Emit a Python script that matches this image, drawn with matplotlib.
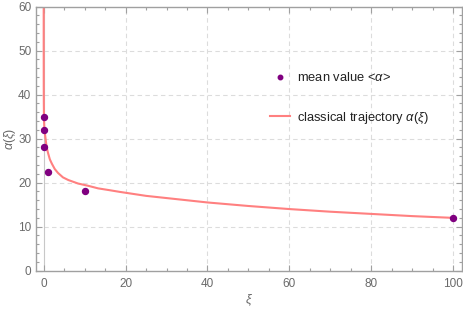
#!/usr/bin/env python3
"""Mean value of alpha vs. the classical trajectory alpha(xi)."""

import matplotlib

matplotlib.use("Agg")
import matplotlib.pyplot as plt
from matplotlib.ticker import MultipleLocator

# measured mean values
xi_points = [0.01, 0.03, 0.1, 1.0, 10.0, 100.0]
alpha_points = [35.0, 32.0, 28.0, 22.5, 18.0, 12.0]

# classical trajectory
xi_curve = [0.0001, 0.001, 0.01, 0.03, 0.07, 0.15, 0.25, 0.4, 0.6, 0.8, 1.1, 1.5,
            2.0, 2.7, 3.5, 4.7, 6.0, 8.4, 10.8, 13.3, 16.0, 18.6, 25.0, 30.0,
            40.0, 50.0, 60.0, 70.0, 80.0, 90.0, 100.0]
alpha_curve = [60.0, 52.0, 42.0, 38.0, 34.5, 32.6, 31.6, 30.4, 28.9, 27.7, 26.6, 25.3,
               24.3, 23.1, 22.2, 21.2, 20.6, 19.8, 19.3, 18.7, 18.3, 17.9, 17.0, 16.5,
               15.5, 14.7, 14.0, 13.4, 12.9, 12.4, 12.0]

x_ticks = [0, 20, 40, 60, 80, 100]
y_ticks = [0, 10, 20, 30, 40, 50, 60]

FRAME = "#a0a0a0"
TEXT = "#6a6a6a"

plt.rcParams["font.family"] = ["Liberation Sans", "DejaVu Sans"]
plt.rcParams["mathtext.fontset"] = "custom"
plt.rcParams["mathtext.it"] = "Liberation Sans:italic"
plt.rcParams["mathtext.rm"] = "Liberation Sans"

fig = plt.figure(figsize=(4.63, 3.10), dpi=100)
ax = fig.add_axes([0.0767, 0.1268, 0.9213, 0.852])

ax.set_xlim(-2.0, 102.2)
ax.set_ylim(0, 60)

ax.axvline(0, color="#c8c8c8", lw=0.8, zorder=1)
ax.plot(xi_curve, alpha_curve, color="#ff8080", lw=1.5, zorder=2,
        label=r"classical trajectory $\alpha(\xi)$")
ax.plot(xi_points, alpha_points, "o", color="#800080", ms=4.3, zorder=3,
        label=r"mean value <$\alpha$>")

ax.set_xticks(x_ticks)
ax.set_yticks(y_ticks)
ax.xaxis.set_minor_locator(MultipleLocator(5))
ax.yaxis.set_minor_locator(MultipleLocator(2))
ax.tick_params(which="both", direction="in", top=True, right=True, color=FRAME,
               labelcolor=TEXT, labelsize=8.5, width=0.8)
ax.tick_params(which="major", length=4.5)
ax.tick_params(which="minor", length=2.5)
ax.tick_params(axis="x", pad=5)
ax.tick_params(axis="y", pad=3)
for s in ax.spines.values():
    s.set_color(FRAME)
    s.set_linewidth(1.0)

for v in x_ticks[1:]:
    ax.axvline(v, color="#dcdcdc", lw=0.8, ls=(0, (4, 3)), zorder=0)
for v in y_ticks[1:-1]:
    ax.axhline(v, color="#dcdcdc", lw=0.8, ls=(0, (4, 3)), zorder=0)

ax.set_xlabel(r"$\xi$", color=TEXT, fontsize=9)
ax.set_ylabel(r"$\alpha(\xi)$", color=TEXT, fontsize=9)
ax.xaxis.set_label_coords(0.5, -0.111)
ax.yaxis.set_label_coords(-0.06, 0.5)
ax.xaxis.label.set_va("center")
ax.yaxis.label.set_va("center")

handles, labels = ax.get_legend_handles_labels()
leg = ax.legend(handles[::-1], labels[::-1], loc="upper left",
                bbox_to_anchor=(0.5226, 0.80), frameon=False, fontsize=9.3,
                labelspacing=2.0, handlelength=1.55, handletextpad=0.55,
                markerscale=0.75)
for t in leg.get_texts():
    t.set_color("#222222")

fig.savefig("out.png", dpi=100)
